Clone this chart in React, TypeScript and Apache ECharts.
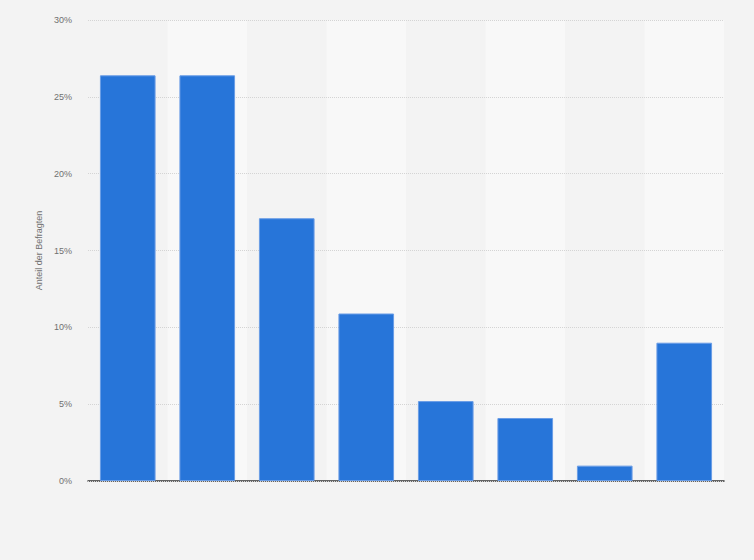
import React, { useEffect, useRef } from 'react';
import * as echarts from 'echarts';

// categories have no visible labels in the chart
const categories = ['1', '2', '3', '4', '5', '6', '7', '8'];
const shares = [26.4, 26.4, 17.1, 10.9, 5.2, 4.1, 1.0, 9.0];
const yTicks = [0, 5, 10, 15, 20, 25, 30];

const App: React.FC = () => {
  const chartRef = useRef<HTMLDivElement>(null);

  useEffect(() => {
    document.body.style.margin = '0';
    const chart = echarts.init(chartRef.current!, undefined, { renderer: 'svg' });

    const options = {
      animation: false,
      backgroundColor: '#f3f3f3',
      grid: { left: 88, right: 30, top: 20, bottom: 79 },
      xAxis: {
        type: 'category',
        data: categories,
        axisLine: { show: true, lineStyle: { color: '#333', width: 1.5 } },
        axisTick: { show: false },
        axisLabel: { show: false },
        splitArea: {
          show: true,
          areaStyle: { color: ['rgba(255,255,255,0)', 'rgba(255,255,255,0.45)'] },
        },
      },
      yAxis: {
        type: 'value',
        min: yTicks[0],
        max: yTicks[yTicks.length - 1],
        interval: 5,
        z: 3,
        name: 'Anteil der Befragten',
        nameLocation: 'middle',
        nameGap: 43,
        nameTextStyle: { color: '#707070', fontSize: 9, fontFamily: 'Liberation Sans, Arial, sans-serif' },
        axisLine: { show: false },
        axisTick: { show: false },
        axisLabel: {
          color: '#707070',
          fontSize: 9,
          margin: 16,
          fontFamily: 'Liberation Sans, Arial, sans-serif',
          formatter: (v: number) => `${v}%`,
        },
        splitLine: { lineStyle: { color: '#d4d4d4', type: 'dotted', width: 1 } },
      },
      series: [
        {
          type: 'bar',
          data: shares,
          barCategoryGap: '30%',
          z: 4,
          itemStyle: { color: '#2775d9', borderColor: '#6a9de6', borderWidth: 1 },
        },
      ],
    };

    chart.setOption(options);

    return () => {
      chart.dispose();
    };
  }, []);

  return <div ref={chartRef} style={{ width: 754, height: 560 }} />;
};

export default App;
